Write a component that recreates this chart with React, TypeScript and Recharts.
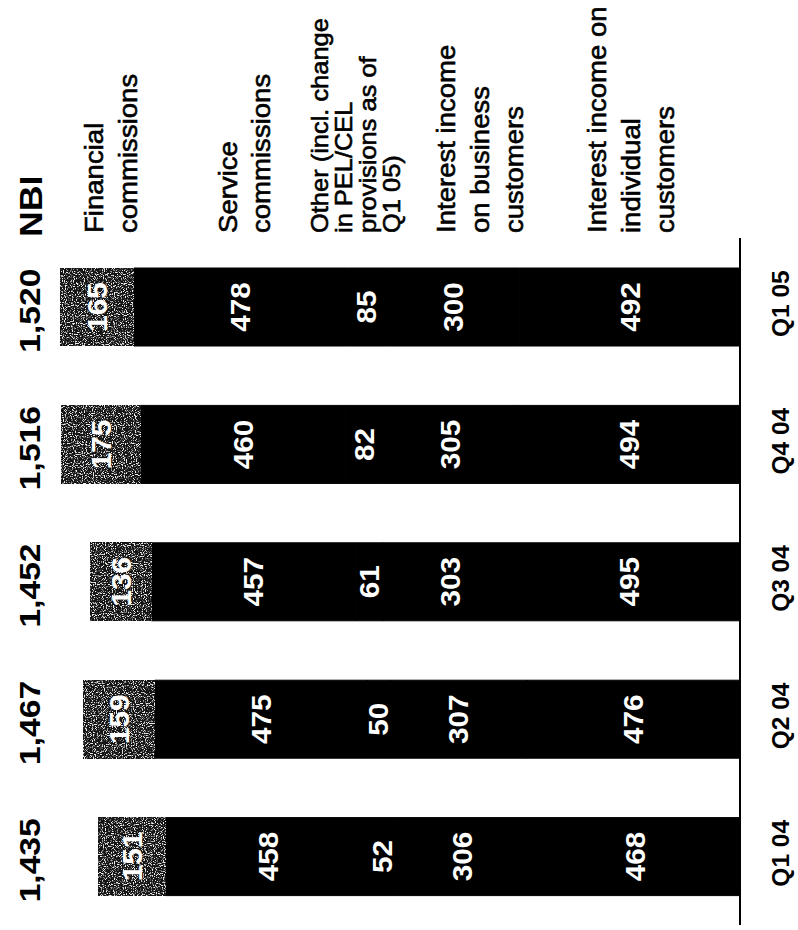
import React from "react";
import { Bar, BarChart, LabelList, XAxis, YAxis } from "recharts";

// Quarterly NBI breakdown (EUR m). Drawn as a column chart turned on its side.
const quarters = ["Q1 04", "Q2 04", "Q3 04", "Q4 04", "Q1 05"];
const individualInterest = [468, 476, 495, 494, 492];
const businessInterest = [306, 307, 303, 305, 300];
const otherIncome = [52, 50, 61, 82, 85];
const serviceCommissions = [458, 475, 457, 460, 478];
const financialCommissions = [151, 159, 136, 175, 165];

const LEGEND_QUARTER = "Q1 05";
const FONT = "'Liberation Sans', Arial, Helvetica, sans-serif";

const CHART_W = 798;
const CHART_H = 930;
const BAR_SIZE = 78;
const LEGEND_BASE = 233;

type SeriesDef = {
  key: string;
  lines: string[];
  fill: string;
  legendSize: number;
  legendLh: number;
  legendShift: number;
};

// stack order: first entry sits against the baseline
const SERIES: SeriesDef[] = [
  { key: "individual", lines: ["Interest income on", "individual", "customers"], fill: "#000", legendSize: 26, legendLh: 34, legendShift: -24 },
  { key: "business", lines: ["Interest income", "on business", "customers"], fill: "#000", legendSize: 26, legendLh: 34, legendShift: 2 },
  { key: "other", lines: ["Other (incl. change", "in PEL/CEL", "provisions as of", "Q1 05)"], fill: "#000", legendSize: 24, legendLh: 24, legendShift: -39 },
  { key: "service", lines: ["Service", "commissions"], fill: "#000", legendSize: 26, legendLh: 33, legendShift: -4 },
  { key: "financial", lines: ["Financial", "commissions"], fill: "url(#speckle)", legendSize: 26, legendLh: 34, legendShift: 6 },
];

const data = quarters.map((quarter, i) => ({
  quarter,
  individual: individualInterest[i],
  business: businessInterest[i],
  other: otherIncome[i],
  service: serviceCommissions[i],
  financial: financialCommissions[i],
}));

const totals: Record<string, number> = {};
data.forEach((d) => {
  totals[d.quarter] = d.individual + d.business + d.other + d.service + d.financial;
});

type RotTextProps = {
  x: number;
  y: number;
  lines: string[];
  size: number;
  weight?: number;
  fill?: string;
  anchor?: "start" | "middle" | "end";
  lh?: number;
  stretch?: number;
  center?: boolean;
  thicken?: number;
};

// text reading bottom-to-top; successive lines step to the right
function RotText({ x, y, lines, size, weight = 400, fill = "#000", anchor = "start", lh = size, stretch = 1, center = false, thicken = 0 }: RotTextProps) {
  return (
    <g transform={`translate(${x},${y}) rotate(-90) scale(${stretch},1)`}>
      <text
        fontFamily={FONT}
        fontSize={size}
        fontWeight={weight}
        fill={fill}
        stroke={thicken ? fill : undefined}
        strokeWidth={thicken || undefined}
        textAnchor={anchor}
      >
        {lines.map((l, i) => (
          <tspan key={i} x={0} dy={i === 0 ? (center ? size * 0.36 : 0) : lh}>
            {l}
          </tspan>
        ))}
      </text>
    </g>
  );
}

const boxOf = (props: any) => {
  const vb = props.viewBox ?? props;
  return { x: Number(vb.x), y: Number(vb.y), width: Number(vb.width), height: Number(vb.height) };
};

const renderValue = (props: any) => {
  const b = boxOf(props);
  return (
    <RotText
      x={b.x + b.width / 2}
      y={b.y + b.height / 2}
      lines={[String(props.value)]}
      size={27}
      weight={700}
      fill="#fff"
      anchor="middle"
      stretch={1.1}
      center
    />
  );
};

const makeLegend = (s: SeriesDef) => (props: any) => {
  if (props.value !== LEGEND_QUARTER) return null;
  const b = boxOf(props);
  const cx = b.x + b.width / 2;
  return (
    <RotText
      x={cx + s.legendShift}
      y={LEGEND_BASE}
      lines={s.lines}
      size={s.legendSize}
      lh={s.legendLh}
      stretch={1.06}
      thicken={0.6}
    />
  );
};

const QuarterTick = (props: any) => (
  <RotText x={props.x + 49} y={props.y - 3} lines={[props.payload.value]} size={24} weight={700} anchor="middle" stretch={1.02} />
);

const TotalTick = (props: any) => {
  const t = totals[props.payload.value];
  return <RotText x={props.x - 20} y={props.y + 4} lines={[t.toLocaleString("en-US")]} size={30} weight={700} anchor="middle" stretch={1.12} />;
};

const NbiHeader = (props: any) => {
  const b = boxOf(props);
  return <RotText x={b.x + b.width - 18} y={b.y - 1} lines={["NBI"]} size={31} weight={700} stretch={1.15} />;
};

const SpeckleBar = (props: any) => {
  const x = Math.min(props.x, props.x + props.width);
  return <rect x={x} y={props.y} width={Math.abs(props.width)} height={props.height} fill="#555" filter="url(#speckle)" />;
};

export default function App() {
  return (
    <div style={{ position: "absolute", left: 0, top: 0, background: "#fff" }}>
      <BarChart
        width={CHART_W}
        height={CHART_H}
        data={data}
        layout="vertical"
        margin={{ top: 238, right: 0, bottom: 5, left: 0 }}
      >
        <defs>
          <filter id="speckle" x="0" y="0" width="1" height="1" colorInterpolationFilters="sRGB">
            <feTurbulence type="fractalNoise" baseFrequency="0.9" numOctaves="1" seed="11" />
            <feColorMatrix type="matrix" values="7 0 0 0 -3.6  7 0 0 0 -3.6  7 0 0 0 -3.6  0 0 0 0 1" />
            <feComponentTransfer>
              <feFuncR type="linear" slope="0.85" intercept="0.08" />
              <feFuncG type="linear" slope="0.85" intercept="0.08" />
              <feFuncB type="linear" slope="0.85" intercept="0.08" />
            </feComponentTransfer>
          </filter>
        </defs>
        <XAxis type="number" domain={[0, 1520]} reversed hide />
        <YAxis
          type="category"
          dataKey="quarter"
          orientation="right"
          reversed
          width={58}
          tickLine={false}
          tickSize={0}
          tickMargin={0}
          axisLine={{ stroke: "#000", strokeWidth: 2 }}
          tick={QuarterTick}
        />
        <YAxis
          yAxisId="totals"
          type="category"
          dataKey="quarter"
          orientation="left"
          reversed
          width={60}
          tickLine={false}
          tickSize={0}
          tickMargin={0}
          axisLine={false}
          tick={TotalTick}
          label={NbiHeader}
        />
        {SERIES.map((s) => (
          <Bar
            key={s.key}
            dataKey={s.key}
            stackId="nbi"
            fill={s.fill}
            stroke={s.key === "financial" ? undefined : "#000"}
            strokeWidth={1}
            barSize={BAR_SIZE}
            isAnimationActive={false}
            shape={s.key === "financial" ? SpeckleBar : undefined}
          >
            <LabelList dataKey={s.key} content={renderValue} />
            <LabelList dataKey="quarter" content={makeLegend(s)} />
          </Bar>
        ))}
      </BarChart>
    </div>
  );
}
